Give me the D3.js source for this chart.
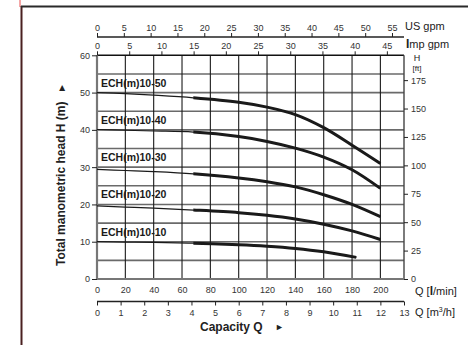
<!DOCTYPE html>
<html>
<head>
<meta charset="utf-8">
<script src="https://cdn.jsdelivr.net/npm/d3@7"></script>
<style>
  body { margin: 0; background: #fff; }
  svg { display: block; font-family: "Liberation Sans", Arial, sans-serif; }
</style>
</head>
<body>
<svg id="chart" width="468" height="345"></svg>
<script>
// pump models and their labels
var models = ["ECH(m)10-50", "ECH(m)10-40", "ECH(m)10-30", "ECH(m)10-20", "ECH(m)10-10"];
// head at zero flow (used to place the labels)
var shutoffHead = [50, 40, 30, 20, 10];

// flow points in l/min
var flowLmin = [0, 20, 40, 68, 100, 120, 140, 160, 180, 200];
var flow1010 = [0, 20, 40, 68, 100, 120, 140, 160, 183];

// head in m
var head1050 = [50.0, 49.7, 49.3, 48.6, 47.4, 46.1, 44.1, 40.6, 35.9, 31.0];
var head1040 = [40.1, 39.9, 39.7, 39.4, 38.2, 36.9, 35.1, 32.7, 29.3, 24.3];
var head1030 = [29.4, 29.1, 28.8, 28.2, 27.1, 26.1, 24.7, 22.6, 20.0, 16.7];
var head1020 = [19.6, 19.3, 19.0, 18.5, 17.8, 17.1, 16.1, 14.7, 12.9, 10.6];
var head1010 = [10.0, 9.9, 9.8, 9.6, 9.2, 8.8, 8.2, 7.3, 5.8];

// where the curve gets thick (l/min)
var thickFrom = 68;

// tick values for each axis
var headTicks = [0, 10, 20, 30, 40, 50, 60];
var ftTicks = [0, 25, 50, 75, 100, 125, 150, 175];
var lminTicks = [0, 20, 40, 60, 80, 100, 120, 140, 160, 180, 200];
var m3hTicks = [0, 1, 2, 3, 4, 5, 6, 7, 8, 9, 10, 11, 12, 13];
var usTicks = [0, 5, 10, 15, 20, 25, 30, 35, 40, 45, 50, 55];
var impTicks = [0, 5, 10, 15, 20, 25, 30, 35, 40, 45];

var curves = [
  {flow: flowLmin, head: head1050},
  {flow: flowLmin, head: head1040},
  {flow: flowLmin, head: head1030},
  {flow: flowLmin, head: head1020},
  {flow: flow1010, head: head1010}
];

var svg = d3.select("#chart");

// plot box (note: "top" is taken by window.top, so use other names)
var pLeft = 97, pRight = 404, pTop = 55.3, pBottom = 279;
var qMax = 13 * 1000 / 60; // 13 m3/h in l/min

var x = d3.scaleLinear().domain([0, qMax]).range([pLeft, pRight]);
var y = d3.scaleLinear().domain([0, 60]).range([pBottom, pTop]);
var yFt = d3.scaleLinear().domain([0, 60 / 0.3048]).range([pBottom, pTop]);
var xM3 = d3.scaleLinear().domain([0, 13]).range([pLeft, pRight]);
var xUS = d3.scaleLinear().domain([0, qMax / 3.78541]).range([pLeft, pRight]);
var xImp = d3.scaleLinear().domain([0, qMax / 4.54609]).range([pLeft, pRight]);

// page frame
svg.append("line").attr("x1", 20).attr("x2", 20).attr("y1", 0).attr("y2", 7)
  .attr("stroke", "#f08a8a").attr("stroke-width", 1.5);
svg.append("line").attr("x1", 21.5).attr("x2", 21.5).attr("y1", 6).attr("y2", 345)
  .attr("stroke", "#4a2020").attr("stroke-width", 2);
svg.append("line").attr("x1", 21).attr("x2", 468).attr("y1", 6.5).attr("y2", 6.5)
  .attr("stroke", "#2a2a2a").attr("stroke-width", 2);

// grid
var grid = svg.append("g");
grid.selectAll(".hg").data(d3.range(5, 60, 5)).enter().append("line")
  .attr("x1", pLeft).attr("x2", pRight)
  .attr("y1", function(d) {return y(d);}).attr("y2", function(d) {return y(d);})
  .attr("stroke", "#6a6a6a").attr("stroke-width", 1.6);
grid.selectAll(".vg").data(lminTicks.slice(1)).enter().append("line")
  .attr("x1", function(d) {return x(d);}).attr("x2", function(d) {return x(d);})
  .attr("y1", pTop).attr("y2", pBottom)
  .attr("stroke", "#1a1a1a").attr("stroke-width", 1.1);

// plot frame
svg.append("line").attr("x1", pLeft).attr("x2", pRight).attr("y1", pTop).attr("y2", pTop)
  .attr("stroke", "#111").attr("stroke-width", 1.6);
svg.append("line").attr("x1", pRight).attr("x2", pRight).attr("y1", pTop).attr("y2", pBottom)
  .attr("stroke", "#444").attr("stroke-width", 1.4);
svg.append("line").attr("x1", pLeft).attr("x2", pRight).attr("y1", pBottom).attr("y2", pBottom)
  .attr("stroke", "#777").attr("stroke-width", 2.2);
svg.append("line").attr("x1", pLeft).attr("x2", pLeft).attr("y1", pTop).attr("y2", pBottom)
  .attr("stroke", "#777").attr("stroke-width", 2.2);

function styleAxis(g) {
  g.select(".domain").remove();
  g.selectAll(".tick line").attr("stroke", "#222");
  g.selectAll(".tick text").attr("fill", "#333")
    .style("font-family", "Liberation Sans, Arial, sans-serif").style("font-size", "9px");
}

// left head axis (m)
svg.append("g").attr("transform", "translate(" + pLeft + ",0)")
  .call(d3.axisLeft(y).tickValues(headTicks).tickSize(5).tickPadding(2))
  .call(styleAxis);

// right head axis (ft)
svg.append("g").attr("transform", "translate(" + pRight + ",0)")
  .call(d3.axisRight(yFt).tickValues(ftTicks).tickSize(4).tickPadding(3))
  .call(styleAxis);

// bottom l/min labels
svg.append("g").attr("transform", "translate(0," + pBottom + ")")
  .call(d3.axisBottom(x).tickValues(lminTicks).tickSize(0).tickPadding(8))
  .call(styleAxis);

// m3/h axis
var m3Axis = svg.append("g").attr("transform", "translate(0,301.5)")
  .call(d3.axisBottom(xM3).tickValues(m3hTicks).tickSize(4).tickPadding(4))
  .call(styleAxis);
m3Axis.append("line").attr("x1", pLeft).attr("x2", pRight).attr("stroke", "#222").attr("stroke-width", 1.3);

// US gpm axis
var usAxis = svg.append("g").attr("transform", "translate(0,37)")
  .call(d3.axisTop(xUS).tickValues(usTicks).tickSize(4).tickPadding(2))
  .call(styleAxis);
usAxis.append("line").attr("x1", pLeft).attr("x2", pRight).attr("stroke", "#222").attr("stroke-width", 1.3);

// Imp gpm axis (sits on the plot top)
svg.append("g").attr("transform", "translate(0," + pTop + ")")
  .call(d3.axisTop(xImp).tickValues(impTicks).tickSize(4).tickPadding(2))
  .call(styleAxis);

// unit labels
function unitText(tx, ty, anchor) {
  return svg.append("text").attr("x", tx).attr("y", ty).attr("text-anchor", anchor || "start")
    .attr("fill", "#222").style("font-size", "11px");
}
unitText(405, 30).text("US gpm");
var imp = unitText(406, 48);
imp.append("tspan").attr("font-weight", "bold").style("font-size", "12px").text("I");
imp.append("tspan").text("mp gpm");
unitText(417, 61, "middle").style("font-size", "9px").text("H");
unitText(417, 71, "middle").style("font-size", "8px").text("[ft]");
var ql = unitText(415, 295);
ql.append("tspan").text("Q [");
ql.append("tspan").attr("font-weight", "bold").style("font-size", "12px").text("l");
ql.append("tspan").text("/min]");
var qm = unitText(415, 316);
qm.append("tspan").text("Q [m");
qm.append("tspan").attr("dy", -4).style("font-size", "7px").text("3");
qm.append("tspan").attr("dy", 4).text("/h]");

// axis titles
svg.append("text").attr("x", 200).attr("y", 331)
  .attr("font-weight", "bold").style("font-size", "12px").attr("fill", "#222")
  .text("Capacity Q");
svg.append("text").attr("x", 275).attr("y", 330)
  .style("font-size", "9px").attr("fill", "#222").text("\u25BA");

svg.append("text").attr("transform", "translate(65,266) rotate(-90)")
  .attr("font-weight", "bold").style("font-size", "12px").attr("fill", "#222")
  .text("Total manometric head H (m)");
svg.append("text").attr("transform", "translate(64.5,88) rotate(-90)")
  .style("font-size", "10px").attr("fill", "#222").attr("text-anchor", "middle")
  .text("\u25BA");

// thick part of each curve = same path clipped to the right of thickFrom
svg.append("clipPath").attr("id", "thickClip")
  .append("rect").attr("x", x(thickFrom)).attr("y", 0)
  .attr("width", pRight - x(thickFrom) + 10).attr("height", 345);

var line = d3.line()
  .x(function(d) {return x(d[0]);})
  .y(function(d) {return y(d[1]);})
  .curve(d3.curveCatmullRom.alpha(0.5));

curves.forEach(function(c, i) {
  var pts = c.flow.map(function(q, j) {return [q, c.head[j]];});
  svg.append("path").attr("d", line(pts))
    .attr("fill", "none").attr("stroke", "#1a1a1a").attr("stroke-width", 1.2);
  svg.append("path").attr("d", line(pts)).attr("clip-path", "url(#thickClip)")
    .attr("fill", "none").attr("stroke", "#1a1a1a").attr("stroke-width", 3)
    .attr("stroke-linecap", "butt");

  svg.append("text").attr("x", 101).attr("y", y(shutoffHead[i]) - 6)
    .attr("font-weight", "bold").style("font-size", "10.5px").attr("fill", "#1a1a1a")
    .text(models[i]);
});
</script>
</body>
</html>
